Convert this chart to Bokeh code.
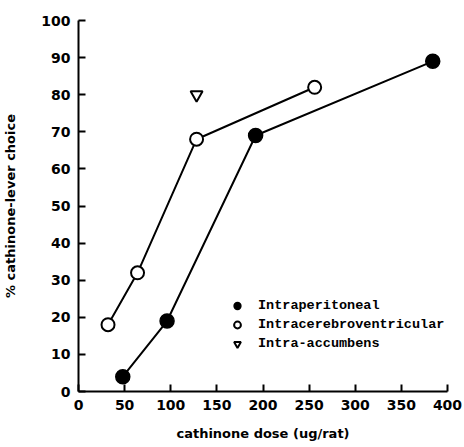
from bokeh.plotting import figure
from bokeh.models import Legend, LegendItem, Range1d, FixedTicker
from bokeh.embed import file_html
from bokeh.resources import INLINE

ip_dose = [48, 96, 192, 384]
ip_pct = [4, 19, 69, 89]
icv_dose = [32, 64, 128, 256]
icv_pct = [18, 32, 68, 82]
acc_dose = [128]
acc_pct = [80]
x_ticks = [0, 50, 100, 150, 200, 250, 300, 350, 400]
y_ticks = [0, 10, 20, 30, 40, 50, 60, 70, 80, 90, 100]

p = figure(width=464, height=447, output_backend="svg", toolbar_location=None,
           x_range=Range1d(0, 400), y_range=Range1d(0, 100),
           min_border_left=78, min_border_right=17, min_border_top=20, min_border_bottom=56)
p.outline_line_color = None
p.xgrid.visible = False
p.ygrid.visible = False
p.background_fill_color = "white"

FONT = "DejaVu Sans"
for ax in (p.xaxis[0], p.yaxis[0]):
    ax.axis_line_width = 2
    ax.axis_line_color = "black"
    ax.major_tick_line_width = 2
    ax.major_tick_in = 7
    ax.major_tick_out = 0
    ax.minor_tick_line_color = None
    ax.major_label_text_font = FONT
    ax.major_label_text_font_style = "bold"
    ax.major_label_text_font_size = "14px"
    ax.major_label_text_color = "black"
    ax.axis_label_text_font = FONT
    ax.axis_label_text_font_style = "bold"
    ax.axis_label_text_font_size = "13px"
    ax.axis_label_text_color = "black"

p.xaxis.ticker = FixedTicker(ticks=x_ticks)
p.yaxis.ticker = FixedTicker(ticks=y_ticks)
p.xaxis.axis_label = "cathinone dose (ug/rat)"
p.yaxis.axis_label = "% cathinone-lever choice"
p.xaxis.major_label_standoff = 8
p.yaxis.major_label_standoff = 8
p.xaxis.axis_label_standoff = 13
p.yaxis.axis_label_standoff = 20

p.line(ip_dose, ip_pct, line_color="black", line_width=2)
p.line(icv_dose, icv_pct, line_color="black", line_width=2)

r_ip = p.scatter(ip_dose, ip_pct, marker="circle", size=14, fill_color="black", line_color="black", line_width=1.5)
r_icv = p.scatter(icv_dose, icv_pct, marker="circle", size=13, fill_color="white", line_color="black", line_width=2)
r_acc = p.scatter(acc_dose, acc_pct, marker="inverted_triangle", size=12, fill_color="white", line_color="black", line_width=2)

legend = Legend(items=[
    LegendItem(label="Intraperitoneal", renderers=[r_ip]),
    LegendItem(label="Intracerebroventricular", renderers=[r_icv]),
    LegendItem(label="Intra-accumbens", renderers=[r_acc]),
], location=(149, 39))
legend.border_line_color = None
legend.background_fill_alpha = 0
legend.label_text_font = "Liberation Mono"
legend.label_text_font_style = "bold"
legend.label_text_font_size = "13.5px"
legend.label_text_color = "black"
legend.glyph_width = 20
legend.glyph_height = 17
legend.label_height = 17
legend.spacing = 2
legend.label_standoff = 11
legend.padding = 0
legend.margin = 0
p.add_layout(legend, "center")

open("out.html", "w").write(file_html(p, INLINE))
